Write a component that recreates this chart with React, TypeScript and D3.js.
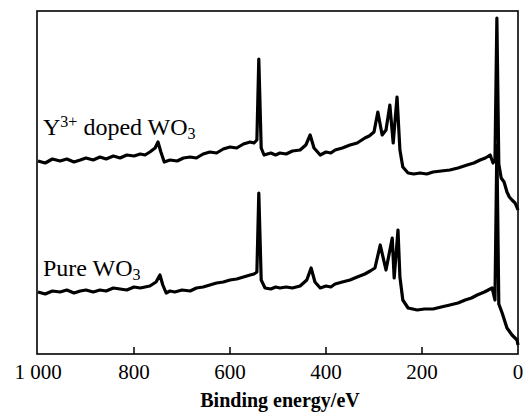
import React from "react";
import * as d3 from "d3";

const energyDoped = [1000, 985, 970, 954, 940, 925, 912, 900, 885, 871, 858, 843, 829, 815, 800, 787, 777, 767, 756, 750, 744, 737, 725, 710, 697, 683, 670, 656, 642, 628, 614, 600, 586, 572, 558, 550, 544, 540, 535, 529, 515, 505, 496, 483, 470, 454, 442, 433, 425, 412, 400, 390, 381, 366, 350, 335, 319, 310, 300, 292, 283, 275, 267, 260, 252, 246, 240, 229, 217, 204, 190, 177, 160, 142, 125, 106, 92, 79, 68, 58, 52, 48, 44, 40, 35, 29, 23, 18, 12.5, 6, 0];
const doped = [193, 191, 195, 193, 195, 192, 194, 196, 194, 197, 195, 198, 196, 199, 198, 200, 199, 202, 206, 212, 202, 192, 194, 193, 196, 197, 196, 200, 202, 201, 205, 207, 206, 210, 212, 211, 214, 295, 206, 199, 201, 199, 201, 200, 203, 204, 209, 219, 206, 199, 202, 201, 204, 206, 209, 211, 216, 218, 222, 242, 219, 224, 249, 211, 257, 204, 187, 181, 180, 181, 180, 182, 183, 184, 186, 189, 191, 194, 196, 199, 191, 194, 336, 190, 176, 172, 162, 157, 154, 151, 144];

const energyPure = [1000, 985, 970, 954, 940, 925, 912, 900, 885, 871, 858, 843, 829, 815, 800, 787, 777, 767, 754, 746, 740, 733, 725, 715, 700, 683, 670, 656, 642, 628, 614, 600, 586, 572, 558, 550, 544, 540, 535, 527, 515, 505, 496, 483, 470, 454, 440, 431, 423, 412, 400, 390, 381, 366, 350, 335, 319, 308, 298, 287, 275, 262, 258, 250, 246, 240, 229, 210, 195, 177, 160, 142, 125, 110, 97, 85, 70, 54, 48, 44, 40, 33, 23, 12.5, 2, 0];
const pure = [62, 60, 63, 62, 64, 61, 63, 64, 62, 64, 63, 66, 65, 64, 67, 66, 67, 68, 72, 79, 69, 61, 63, 62, 64, 63, 66, 67, 69, 71, 72, 74, 75, 77, 79, 80, 82, 161, 74, 66, 65, 67, 66, 67, 66, 68, 74, 86, 72, 66, 68, 67, 70, 72, 74, 77, 80, 83, 86, 109, 84, 116, 76, 124, 77, 54, 46, 44, 45, 45, 47, 49, 51, 54, 56, 59, 62, 66, 54, 209, 50, 41, 26, 19, 14, 9];

const xTicks = [1000, 800, 600, 400, 200, 0];
const xTickLabels = ["1 000", "800", "600", "400", "200", "0"];

export default function App() {
  const W = 530, H = 414;
  const left = 37, right = 518, top = 11, bottom = 354;
  const x = d3.scaleLinear().domain([1000, 0]).range([38, 518]);
  const y = d3.scaleLinear().domain([0, 343]).range([bottom, top]);
  const lineD = d3.line<number>().x((_, i) => x(energyDoped[i])).y((d) => y(d));
  const lineP = d3.line<number>().x((_, i) => x(energyPure[i])).y((d) => y(d));
  const font = "'Liberation Serif', 'Times New Roman', serif";
  return (
    <svg width={W} height={H} style={{ position: "absolute", left: 0, top: 0, background: "#fff" }}>
      <rect x={left} y={top} width={right - left} height={bottom - top} fill="none" stroke="#000" strokeWidth={1.6} />
      {xTicks.map((t, i) => (
        <g key={t}>
          {i > 0 && i < xTicks.length - 1 && (
            <line x1={x(t)} x2={x(t)} y1={bottom} y2={bottom - 7} stroke="#000" strokeWidth={1.5} />
          )}
          <text x={x(t)} y={379} textAnchor="middle" fontFamily={font} fontSize={21}>
            {xTickLabels[i]}
          </text>
        </g>
      ))}
      <path d={lineD(doped) || ""} fill="none" stroke="#000" strokeWidth={3.2} strokeLinejoin="round" />
      <path d={lineP(pure) || ""} fill="none" stroke="#000" strokeWidth={3.2} strokeLinejoin="round" />
      <text x={43} y={135} fontFamily={font} fontSize={24}>
        Y<tspan fontSize={16} dy={-8}>3+</tspan>
        <tspan dy={8}> doped WO</tspan>
        <tspan fontSize={16} dy={4}>3</tspan>
      </text>
      <text x={43} y={276} fontFamily={font} fontSize={24}>
        Pure WO<tspan fontSize={16} dy={4}>3</tspan>
      </text>
      <text x={280} y={407} textAnchor="middle" fontFamily={font} fontSize={20} fontWeight="bold">
        Binding energy/eV
      </text>
    </svg>
  );
}
